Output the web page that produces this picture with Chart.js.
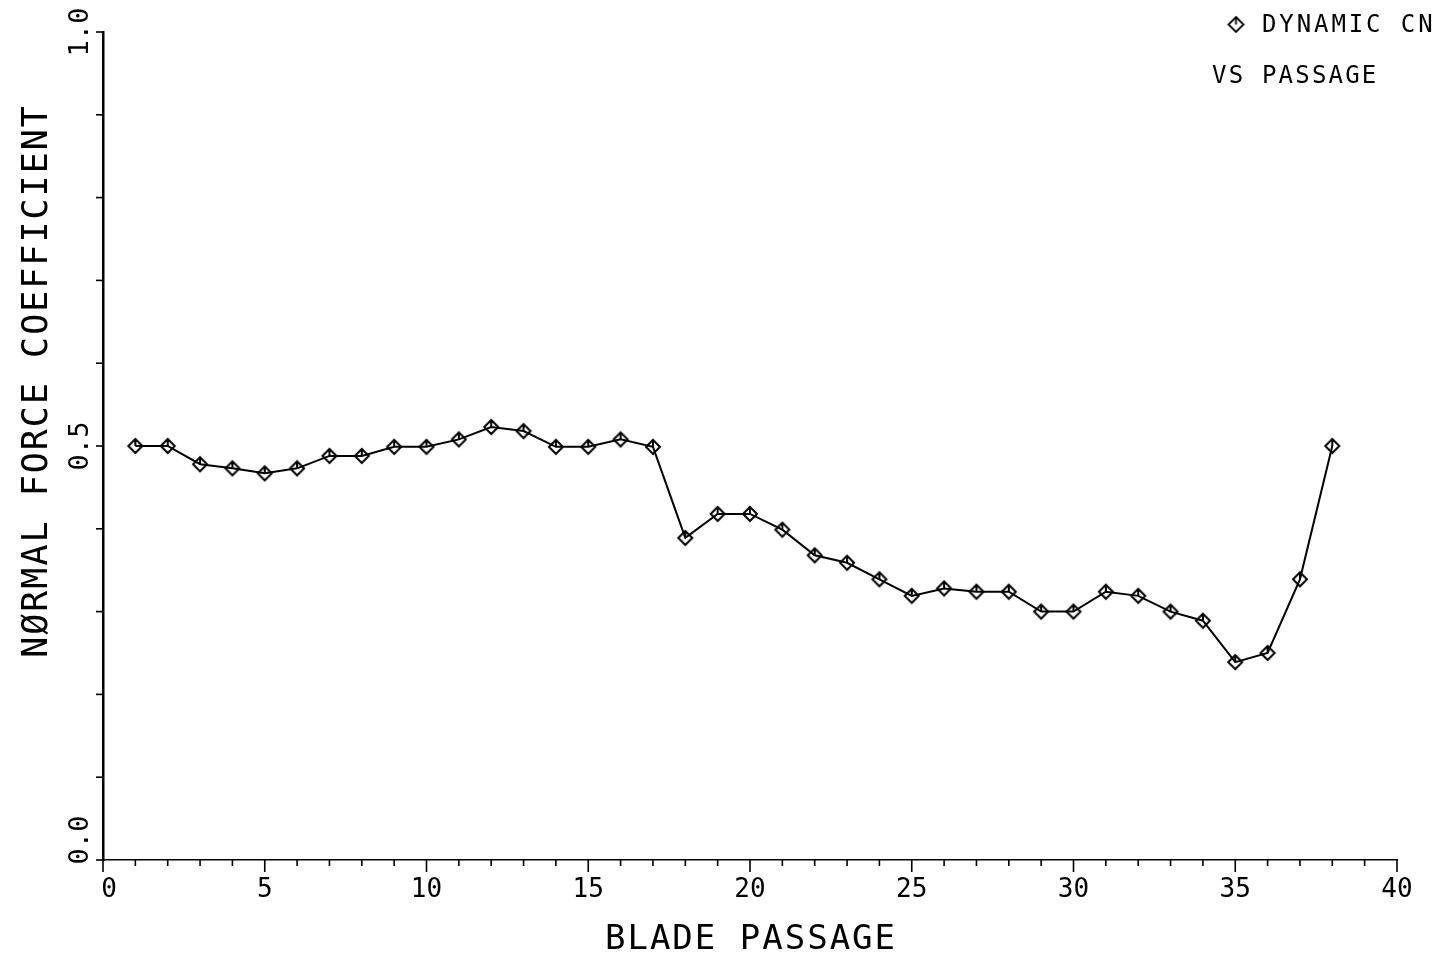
<!DOCTYPE html>
<html>
<head>
<meta charset="utf-8">
<title>Dynamic CN vs passage</title>
<script src="https://cdn.jsdelivr.net/npm/chart.js@4/dist/chart.umd.min.js"></script>
<style>
  html, body { margin: 0; padding: 0; background: #fff; }
  #wrap { width: 1439px; height: 959px; }
</style>
</head>
<body>
<div id="wrap"><canvas id="cnChart" width="1439" height="959"></canvas></div>
<script>
// blade passage number and dynamic normal force coefficient
var passages = [1, 2, 3, 4, 5, 6, 7, 8, 9, 10, 11, 12, 13, 14, 15, 16, 17, 18, 19,
                20, 21, 22, 23, 24, 25, 26, 27, 28, 29, 30, 31, 32, 33, 34, 35, 36, 37, 38];
var dynamicCN = [0.500, 0.500, 0.478, 0.473, 0.467, 0.473, 0.488, 0.488, 0.499, 0.499,
                 0.508, 0.523, 0.518, 0.499, 0.499, 0.508, 0.499, 0.389, 0.418, 0.418,
                 0.399, 0.368, 0.359, 0.339, 0.319, 0.328, 0.324, 0.324, 0.300, 0.300,
                 0.324, 0.319, 0.300, 0.289, 0.239, 0.250, 0.339, 0.500];

var xLabelled = [0, 5, 10, 15, 20, 25, 30, 35, 40];
var yLabelled = [0.0, 0.5, 1.0];
var legendLines = ['DYNAMIC CN', 'VS PASSAGE'];
var xTitle = 'BLADE PASSAGE';
var yTitle = 'NØRMAL FORCE COEFFICIENT';

var plotFont = '"DejaVu Sans Mono", monospace';

// plotter style symbol: open diamond with a stub from the top corner
function makeDiamond(half, lw) {
  var size = half * 2 + 6;
  var c = document.createElement('canvas');
  c.width = size; c.height = size;
  var g = c.getContext('2d');
  var m = size / 2;
  g.strokeStyle = '#000';
  g.lineWidth = lw;
  g.beginPath();
  g.moveTo(m, m - half);
  g.lineTo(m + half, m);
  g.lineTo(m, m + half);
  g.lineTo(m - half, m);
  g.closePath();
  g.stroke();
  g.beginPath();
  g.moveTo(m, m - half);
  g.lineTo(m, m);
  g.stroke();
  return c;
}

var marker = makeDiamond(7, 2);
var legendMarker = makeDiamond(7.5, 1.8);

function strokeLine(ctx, x1, y1, x2, y2) {
  ctx.beginPath();
  ctx.moveTo(x1, y1);
  ctx.lineTo(x2, y2);
  ctx.stroke();
}

var plotterDecor = {
  id: 'plotterDecor',
  afterDraw: function (chart) {
    var ctx = chart.ctx;
    var xs = chart.scales.x;
    var ys = chart.scales.y;
    var area = chart.chartArea;
    ctx.save();
    ctx.strokeStyle = '#000';
    ctx.fillStyle = '#000';

    // x tick marks hang below the axis, longer every 5
    ctx.lineWidth = 1.6;
    xs.ticks.forEach(function (t) {
      var px = xs.getPixelForValue(t.value);
      var len = Math.round(t.value) % 5 === 0 ? 12 : 6;
      strokeLine(ctx, px, area.bottom, px, area.bottom + len);
    });

    // y tick marks point left
    ys.ticks.forEach(function (t) {
      var py = ys.getPixelForValue(t.value);
      strokeLine(ctx, area.left - 7, py, area.left, py);
    });

    // x labels
    ctx.font = '26px ' + plotFont;
    ctx.textAlign = 'center';
    ctx.textBaseline = 'alphabetic';
    xLabelled.forEach(function (v) {
      var px = xs.getPixelForValue(v);
      if (v === 0) px += 6;
      ctx.fillText(String(v), px, 897);
    });

    // y labels written sideways, baseline toward the axis
    ctx.font = '27px ' + plotFont;
    yLabelled.forEach(function (v) {
      var py = ys.getPixelForValue(v);
      if (v === 0) py -= 20;
      ctx.save();
      ctx.translate(area.left - 15, py);
      ctx.rotate(-Math.PI / 2);
      ctx.fillText(v.toFixed(1), 0, 0);
      ctx.restore();
    });

    // axis titles
    ctx.font = '34px ' + plotFont;
    ctx.letterSpacing = '2px';
    ctx.fillText(xTitle, (area.left + area.right) / 2 + 1, 949);
    ctx.save();
    ctx.font = '35px ' + plotFont;
    ctx.letterSpacing = '2px';
    ctx.translate(47, 381);
    ctx.rotate(-Math.PI / 2);
    ctx.fillText(yTitle, 0, 0);
    ctx.restore();

    // legend block, top right
    ctx.font = '24px ' + plotFont;
    ctx.textAlign = 'left';
    ctx.drawImage(legendMarker, 1236 - legendMarker.width / 2, 24.5 - legendMarker.height / 2);
    ctx.letterSpacing = '2.9px';
    ctx.fillText(legendLines[0], 1262, 32);
    ctx.letterSpacing = '2.2px';
    ctx.fillText(legendLines[1], 1212, 83);
    ctx.restore();
  }
};

var ctx = document.getElementById('cnChart').getContext('2d');
var cnChart = new Chart(ctx, {
  type: 'line',
  data: {
    labels: passages,
    datasets: [{
      label: legendLines[0],
      data: passages.map(function (p, i) { return { x: p, y: dynamicCN[i] }; }),
      borderColor: '#000',
      borderWidth: 2,
      tension: 0,
      fill: false,
      pointStyle: marker,
      pointRadius: 7,
      pointHoverRadius: 7
    }]
  },
  options: {
    responsive: false,
    animation: false,
    devicePixelRatio: 1,
    layout: { padding: { left: 103, right: 42, top: 32, bottom: 99 } },
    plugins: {
      legend: { display: false },
      tooltip: { enabled: false }
    },
    scales: {
      x: {
        type: 'linear',
        min: 0,
        max: 40,
        afterFit: function (scale) { scale.height = 0; },
        grid: { display: false, drawTicks: false },
        border: { display: true, color: '#000', width: 1.5 },
        ticks: { stepSize: 1, display: false }
      },
      y: {
        type: 'linear',
        min: 0,
        max: 1,
        afterFit: function (scale) { scale.width = 0; },
        grid: { display: false, drawTicks: false },
        border: { display: true, color: '#000', width: 2.5 },
        ticks: { stepSize: 0.1, display: false }
      }
    }
  },
  plugins: [plotterDecor]
});
</script>
</body>
</html>
